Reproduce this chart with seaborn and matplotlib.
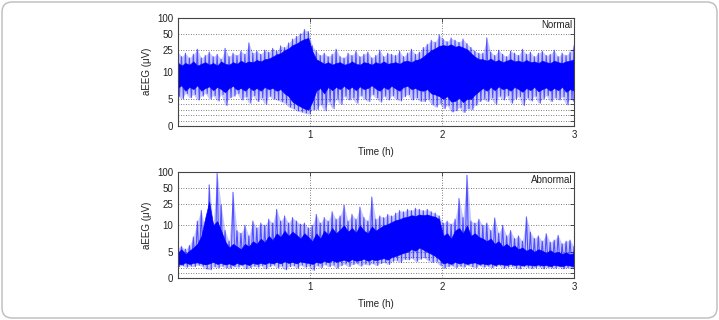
import numpy as np
import pandas as pd
import matplotlib
matplotlib.use("Agg")
import matplotlib.pyplot as plt
import seaborn as sns
from matplotlib.patches import FancyBboxPatch

# ---------------- data, one value every 0.03 h ----------------
panel_titles = ["Normal", "Abnormal"]
x_label = "Time (h)"
y_label = "aEEG (\u03bcV)"
y_tick_values = [0, 1, 2, 3, 4, 5, 10, 25, 50, 100]
y_tick_labels = ["0", "", "", "", "", "5", "10", "25", "50", "100"]
x_tick_values = [1, 2, 3]
x_tick_labels = ["1", "2", "3"]

# dense core band of the trace
normal_core_hi = [15, 13, 14.5, 13.5, 15.5, 13, 14, 15, 13.5, 14.5, 13, 15.5, 14, 13.5, 15, 14, 16, 14.5, 15.5, 15, 16.5, 15.5, 17, 17.5,
                  19, 21, 22, 25, 27, 31, 33, 37, 40, 42,
                  24,
                  17, 15.5, 14, 15, 13.5, 14.5, 15, 13.5, 14, 15.5, 14, 13.5, 15, 14.5, 13.5, 15, 14, 15.5, 14, 14.5, 15, 14, 15.5, 16, 15, 16.5, 17,
                  19, 22, 25, 27, 30,
                  31, 30, 32, 29, 30, 28, 26,
                  22, 19, 17,
                  17, 16, 17.5, 15.5, 16.5, 15, 16, 17, 15.5, 16, 15, 16.5, 15, 15.5, 14.5, 16, 15, 14.5, 16, 15, 14.5, 15.5, 16, 17]
normal_core_lo = [7, 7.5, 6.5, 7.2, 6.8, 7.5, 6.5, 7, 7.3, 6.6, 7.2, 6.8, 6.2, 7, 7.4, 6.7, 7, 6.5, 7.2, 6.6, 7, 6.5, 7.2, 6.8,
                  7, 6.5, 6.8, 6, 5.5, 4.5, 4, 3.6, 3.2, 3.0,
                  4.5,
                  6.5, 7, 6, 7.2, 6.6, 7.2, 6.8, 7.4, 6.8, 7.2, 6.6, 7.3, 6.8, 7, 7.5, 6.9, 6.5, 7.2, 6.8, 7.4, 6.9, 6.5, 7.2, 7.4, 6.8, 7, 6.6,
                  6.5, 6.8, 6, 5.8, 5.5,
                  5, 5.5, 4.5, 4.6, 5.2, 4.4, 5,
                  5, 5.8, 6.4,
                  7, 6.5, 7.2, 6.6, 7.3, 6.8, 7, 6.5, 7.2, 6.8, 6.3, 7, 6.6, 7.2, 6.4, 6.8, 7.1, 6.5, 7, 6.6, 7.2, 6.3, 6.8, 6.5]
# spike extremes of the trace
normal_peak = [24, 19, 22, 18, 21, 26, 18, 20, 23, 19, 21, 17, 27, 19, 22, 20, 24, 21, 34, 22, 24, 21, 25, 23,
               27, 24, 30, 28, 34, 40, 45, 50, 60, 55,
               30,
               24, 20, 22, 19, 21, 26, 19, 18, 22, 20, 24, 19, 21, 23, 18, 20, 25, 19, 22, 21, 20, 24, 19, 22, 26, 21, 23,
               28, 32, 38, 35, 48,
               40, 36, 42, 38, 35, 40, 33,
               28, 24, 22,
               22, 42, 23, 20, 25, 21, 19, 24, 22, 20, 26, 21, 23, 19, 22, 24, 20, 21, 25, 19, 22, 20, 23, 30]
normal_dip = [5.5, 5, 6, 5.2, 5.8, 4.8, 5.5, 6, 5, 5.6, 4.6, 5.8, 3.8, 5.2, 5.5, 6, 4.8, 5.4, 4.2, 5.6, 4.5, 5.2, 4, 5.5,
              5, 4.8, 4.5, 4.2, 3.5, 3.2, 2.8, 2.6, 2.4, 2.2,
              3,
              3, 4, 2.8, 4.5, 3.2, 5, 4, 5.5, 4.8, 5.2, 4.2, 5.6, 5, 4.5, 5.8, 5.2, 4.4, 5.5, 4.8, 5.6, 5, 4.6, 5.4, 5.8, 4.8, 5.2, 4.6,
              4.5, 5, 4, 3.5, 4.2,
              3.2, 3.8, 2.6, 2.8, 3.4, 2.5, 3.2,
              3, 3.8, 4.5,
              5, 4.5, 5.2, 4, 5.5, 4.8, 5.6, 4.2, 5, 5.4, 3.8, 5.2, 4.6, 5.5, 4.2, 5, 5.6, 4.5, 5.2, 4.8, 5.4, 3.9, 5, 4.5]

abnormal_core_hi = [4.8, 5.5, 4.6, 5.2, 5.8, 6.5, 8, 14, 28, 10, 12,
                    9, 7, 5.8, 6.5, 6, 5.5, 6.5, 6, 7, 6.5,
                    7.5, 6.8, 8, 7.2, 8.5, 7.8, 9, 8, 8.8, 8.2, 7.5, 8.5, 7.8,
                    7, 8.5, 7.5, 9, 8.2, 9.5, 8.5, 9.2, 10, 8.8, 9.5, 8.6, 10, 9, 8.5, 9.8, 9,
                    9.5, 10, 10.5, 11.5, 12.5, 13, 14, 14.5, 15.5, 15, 16, 15.5, 16, 15, 14.5, 13,
                    8, 8.5, 7.5, 9, 9.5, 8.5, 10, 8, 8.5, 7.8, 7.5, 7, 7.5, 6.5, 7, 6, 6.5, 5.8, 6.2, 5.5,
                    5.8, 5.2, 5.6, 5, 5.5, 5.2, 4.8, 5.3, 4.8, 5, 4.6, 4.9, 4.5, 4.8]
abnormal_core_lo = [2.8, 2.6, 3, 2.7, 2.9, 3, 2.8, 2.6, 2.8, 3.1, 2.7,
                    2.9, 2.6, 2.8, 2.5, 2.9, 2.6, 2.8, 2.5, 2.9, 2.7,
                    2.9, 2.7, 3, 2.8, 3.1, 2.8, 3.2, 2.9, 3.1, 2.8, 3.2, 3, 2.9,
                    2.7, 3.1, 2.9, 3.3, 3, 3.4, 3.1, 3.3, 3.5, 3.2, 3.6, 3.3, 3.4, 3.7, 3.3, 3.6, 3.4,
                    3.6, 3.8, 3.5, 4, 4.2, 4.5, 4.8, 5, 5.5, 5.2, 5.8, 5.4, 5, 4.6, 4.2, 3.6,
                    2.8, 3, 2.7, 3.1, 2.8, 3, 2.7, 2.9, 3, 2.7, 2.8, 2.6, 2.8, 2.5, 2.7, 2.6, 2.5, 2.7, 2.5, 2.6,
                    2.4, 2.6, 2.5, 2.4, 2.6, 2.4, 2.5, 2.3, 2.5, 2.4, 2.3, 2.5, 2.4, 2.3]
abnormal_peak = [5.8, 6, 5.5, 6.2, 7.8, 12, 19, 9, 58, 11, 95,
                 24, 9, 7, 42, 9, 8.5, 10, 8, 12, 9.5,
                 11, 10, 13, 11, 20, 12, 15, 11, 14, 12, 10.5, 11, 9.5,
                 10, 16, 11, 14, 12, 18, 13, 15, 24, 12, 16, 13, 22, 14, 12, 34, 13,
                 15, 14, 16, 15, 17, 19, 18, 20, 19, 21, 20, 19, 20, 18, 17, 15,
                 11, 12, 10.5, 13, 32, 14, 88, 12, 11, 13, 10, 11, 9, 13.7, 8.5, 10, 8, 9, 7.5, 8,
                 7, 14.4, 8.7, 7.5, 8, 7, 8.4, 6.8, 7.2, 8.1, 6.5, 7, 7.2, 6]
abnormal_dip = [2.2, 2.4, 2.1, 2.3, 2.2, 2.5, 2.3, 1.8, 1.6, 2.2, 2.0,
                2.3, 2.0, 1.9, 2.2, 2.1, 2.4, 1.8, 2.0, 2.3, 2.1,
                2.4, 1.8, 2.2, 2.5, 2.0, 2.3, 1.6, 2.2, 2.4, 1.9, 2.5, 2.1, 2.3,
                1.5, 2.4, 2.0, 2.6, 2.2, 2.5, 1.9, 2.4, 2.7, 2.2, 2.6, 2.8, 2.3, 2.7, 2.5, 2.8, 2.4,
                2.8, 3.0, 2.6, 3.2, 3.4, 3.0, 3.6, 3.5, 3.8, 3.2, 3.6, 3.9, 3.4, 3.0, 3.2, 2.5,
                1.9, 2.2, 2.4, 2.0, 2.3, 2.1, 2.5, 2.2, 2.0, 2.4, 2.1, 2.3, 2.0, 2.2, 2.4, 1.9, 2.1, 2.3,
                2.0, 1.8, 2.2, 2.1, 1.9, 2.0, 2.2, 1.8, 2.1, 2.0, 1.9, 2.2, 1.8, 2.0, 2.1, 1.9]

panels = [
    (normal_core_hi, normal_core_lo, normal_peak, normal_dip),
    (abnormal_core_hi, abnormal_core_lo, abnormal_peak, abnormal_dip),
]

# ---------------- styling ----------------
sns.set_style("white")
plt.rcParams["font.family"] = ["Liberation Sans", "DejaVu Sans"]
plt.rcParams["font.size"] = 7

BLUE = "#0000ff"


def fwd(y):
    y = np.asarray(y, dtype=float)
    return np.where(y <= 10, y / 10.0, 1.0 + np.log10(np.maximum(y, 1e-9) / 10.0))


def inv(f):
    f = np.asarray(f, dtype=float)
    return np.where(f <= 1, f * 10.0, 10.0 * 10.0 ** (f - 1.0))


W, H = 719, 320
fig = plt.figure(figsize=(W / 100, H / 100), dpi=100)
axes_px = [(177.5, 17.5, 574, 126), (177.5, 172.3, 574, 278.3)]

for (core_hi, core_lo, peak, dip), title, (x0, y0, x1, y1) in zip(panels, panel_titles, axes_px):
    ax = fig.add_axes([x0 / W, 1 - y1 / H, (x1 - x0) / W, (y1 - y0) / H])
    ax.set_yscale("function", functions=(fwd, inv))

    n = min(len(peak), len(dip))
    t_sp = np.linspace(0, 3, n)
    # faint haze of the many overlapping sweeps between the extremes
    ax.fill_between(t_sp, dip[:n], peak[:n], color=BLUE, alpha=0.22, lw=0, zorder=2)

    nc = min(len(core_hi), len(core_lo))
    t_core = np.linspace(0, 3, nc)
    ax.fill_between(t_core, core_lo[:nc], core_hi[:nc], color=BLUE, lw=0.4,
                    edgecolor=BLUE, zorder=3)

    half = (t_sp[1] - t_sp[0]) / 2
    tt = np.empty(2 * n)
    vv = np.empty(2 * n)
    tt[0::2] = t_sp
    tt[1::2] = np.minimum(t_sp + half, 3)
    vv[0::2] = peak[:n]
    vv[1::2] = dip[:n]
    df = pd.DataFrame({"t": tt, "v": vv})
    sns.lineplot(data=df, x="t", y="v", ax=ax, color=BLUE, lw=0.8, alpha=0.6,
                 sort=False, estimator=None, zorder=4)

    ax.set_xlim(0, 3)
    ax.set_ylim(0, 100)
    ax.set_yticks(y_tick_values)
    ax.set_yticklabels(y_tick_labels)
    ax.set_xticks(x_tick_values)
    ax.set_xticklabels(x_tick_labels)
    ax.minorticks_off()
    ax.tick_params(direction="in", length=3, width=0.6, top=True, right=True,
                   labelsize=7, pad=3, colors="#333333", labelcolor="#222222")
    ax.grid(True, axis="both", color="#555555", lw=0.6, ls=(0, (1, 2)), zorder=1)
    for s in ax.spines.values():
        s.set_color("#444444")
        s.set_linewidth(0.8)
        s.set_zorder(6)
    ax.set_xlabel(x_label, fontsize=7, labelpad=5, color="#222222")
    ax.set_ylabel(y_label, fontsize=7, labelpad=4, color="#222222")
    ax.text(0.995, 0.975, title, transform=ax.transAxes, ha="right", va="top",
            fontsize=7, color="#222222", zorder=7,
            bbox=dict(facecolor="white", edgecolor="none", pad=1.0))

border = FancyBboxPatch((0.02, 0.02), W / 100 - 0.04, H / 100 - 0.04,
                        boxstyle="round,pad=0,rounding_size=0.1",
                        transform=fig.dpi_scale_trans, fill=False,
                        edgecolor="#bbbbbb", lw=1.0)
fig.patches.append(border)

fig.savefig("out.png", dpi=100)
